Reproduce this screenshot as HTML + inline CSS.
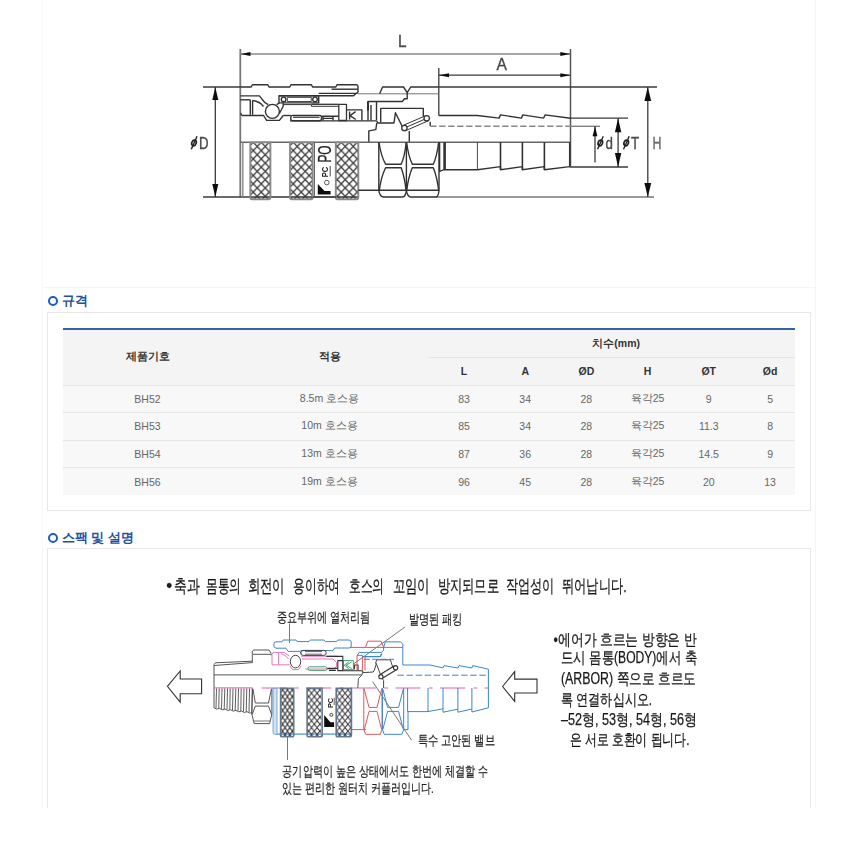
<!DOCTYPE html>
<html lang="ko">
<head>
<meta charset="utf-8">
<title>BH Series</title>
<style>
*{box-sizing:border-box;margin:0;padding:0}
html,body{width:860px;height:850px;background:#fff;overflow:hidden}
body{font-family:"Liberation Sans",sans-serif;color:#666;position:relative}
.wrap{position:absolute;left:42px;top:0;width:774px;height:808px;border-left:1px solid #f8f8f8;border-right:1px solid #f6f6f6}
.topbox{position:absolute;left:0;top:0;width:860px;height:288px}
.topline{position:absolute;left:43px;top:287px;width:772px;height:1px;background:#f6f6f6}
h3{position:absolute;left:47.8px;height:14px;font-size:13px;line-height:14px;font-weight:bold;color:#24519f;padding-left:14px;white-space:nowrap}
h3:before{content:"";position:absolute;left:-0.3px;top:2.1px;width:6px;height:6px;border:2.3px solid #1d5cc0;border-radius:50%}
h3.h1{top:294px}
h3.h2{top:530.5px}
.box{position:absolute;left:47px;width:764px;border:1px solid #e8e8e8;background:#fff}
.box.b1{top:312px;height:199px}
.box.b2{top:548px;height:270px;border-bottom:none}
.cut{position:absolute;left:0;top:808px;width:860px;height:42px;background:#fff}
table{position:absolute;left:15px;top:15px;width:732px;border-collapse:collapse;table-layout:fixed;border-top:2px solid #3462aa;font-size:10.5px}
th,td{text-align:center;vertical-align:middle;padding:0;border-bottom:1px solid #e6e6e6;white-space:nowrap}
th{background:#f4f4f4;color:#333;font-weight:bold;font-size:10.5px}
td{background:#f8f8f8;color:#666;height:27.5px}
tr.r1 th{height:28.7px}
tr.r2 th{height:27.5px}
tr:last-child td{border-bottom:none}
th.grp{border-bottom:1px solid #e4e4e4;position:relative;padding-left:4px}
th.grp:before{content:"";position:absolute;left:-5.4px;bottom:-1px;width:6px;height:1px;background:#e4e4e4}
.c2{padding-right:6.4px}
.cl{padding-left:5.8px}
</style>
</head>
<body>
<div class="wrap"></div>
<div class="topbox">
<svg width="860" height="288" viewBox="0 0 860 288" style="position:absolute;left:0;top:0">
<defs><pattern id="kn" width="8" height="8.3" patternUnits="userSpaceOnUse" x="253.24" y="150.6"><path d="M0,0 L8,8.3 M8,0 L0,8.3" stroke="#3a3a3a" stroke-width="1.35" fill="none"/></pattern><filter id="bl" x="-2%" y="-2%" width="104%" height="104%"><feGaussianBlur stdDeviation="0.62"/></filter></defs>
<g filter="url(#bl)">
<g fill="none" stroke="#3a3a3a" stroke-width="1.3">
<path d="M240.3,49 V197" stroke="#777" stroke-width="1.8"/>
<path d="M240.3,54 H570.5" stroke="#888" stroke-width="1.4"/>
<path d="M438.8,68 V115.5"/>
<path d="M438.8,75.2 H570.5"/>
<path d="M570.5,49 V166.5" stroke="#555" stroke-width="1.5"/>
<path d="M203,87 H240.3"/>
<path d="M203,197 H250"/>
<path d="M215.3,87 V197"/>
<path d="M438.8,87 H657"/>
<path d="M436,197 H654" stroke="#777" stroke-width="1.4"/>
<path d="M647.8,87 V197"/>
<path d="M570.5,118.2 H628"/>
<path d="M569.5,167 H628"/>
<path d="M618.1,118.2 V167"/>
<path d="M571,126.3 H600" stroke="#777"/>
<path d="M595,126.3 V162.4"/>
</g>
<path d="M240.5,54 L250.5,52.0 L250.5,56.0 Z" fill="#111" stroke="none"/>
<path d="M570.3,54 L560.3,52.0 L560.3,56.0 Z" fill="#111" stroke="none"/>
<path d="M439,75.2 L449,73.2 L449,77.2 Z" fill="#111" stroke="none"/>
<path d="M570.3,75.2 L560.3,73.2 L560.3,77.2 Z" fill="#111" stroke="none"/>
<path d="M215.3,87 L212.3,100 L218.3,100 Z" fill="#111" stroke="none"/>
<path d="M215.3,197 L212.3,184 L218.3,184 Z" fill="#111" stroke="none"/>
<path d="M647.8,87 L644.4,101 L651.1999999999999,101 Z" fill="#111" stroke="none"/>
<path d="M647.8,197 L644.4,183 L651.1999999999999,183 Z" fill="#111" stroke="none"/>
<path d="M618.1,118.2 L614.9,132.2 L621.3000000000001,132.2 Z" fill="#111" stroke="none"/>
<path d="M618.1,167 L614.9,153 L621.3000000000001,153 Z" fill="#111" stroke="none"/>
<path d="M595,126.3 L592.6,136.3 L597.4,136.3 Z" fill="#111" stroke="none"/>
<g font-family="Liberation Sans, sans-serif" font-size="16.1" fill="#484848" stroke="#484848" stroke-width="0.35">
<text transform="translate(397.9,46.5) scale(0.95,0.97)">L</text>
<text transform="translate(496.5,70.4) scale(0.97,0.97)">A</text>
<text transform="translate(198.9,148.8) scale(0.82,1)">D</text>
<text transform="translate(605.5,148.7) scale(0.83,1)">d</text>
<text transform="translate(631,148.7) scale(0.83,1)">T</text>
<text transform="translate(652.6,148.7) scale(0.77,1)" fill="#666" stroke="#666">H</text>
</g>
<ellipse cx="194.0" cy="142.9" rx="2.2" ry="2.9" fill="none" stroke="#222" stroke-width="1.7" transform="rotate(18 194.0 142.9)"/><path d="M191.3,149.3 L197.0,136.3" stroke="#222" stroke-width="1.4" fill="none"/>
<ellipse cx="600.3" cy="142.9" rx="2.2" ry="2.9" fill="none" stroke="#222" stroke-width="1.7" transform="rotate(18 600.3 142.9)"/><path d="M597.5999999999999,149.3 L603.3,136.3" stroke="#222" stroke-width="1.4" fill="none"/>
<ellipse cx="626.2" cy="142.9" rx="2.2" ry="2.9" fill="none" stroke="#222" stroke-width="1.7" transform="rotate(18 626.2 142.9)"/><path d="M623.5,149.3 L629.2,136.3" stroke="#222" stroke-width="1.4" fill="none"/>
<g fill="none" stroke="#333" stroke-width="1.4" stroke-linejoin="round">
<path d="M240.3,87 H251.2 L252.4,84.7 H267.8 L269,87 H289.8 L291,84.7 H311.4 L312.6,87 H335.8 L337,84.7 H356.3 Q358,84.9 358,86.6 V91.5 Q358,93.3 356.3,93.3"/>
<path d="M331.5,89.2 H357.8"/>
<path d="M318.7,93.4 H357"/>
<path d="M279,95.8 H353.5 L356,93.4"/>
<path d="M357.5,93.8 H438.8" stroke="#666" stroke-width="0.9"/>
<path d="M240.3,95.9 H259.4 L265,102.7"/>
<path d="M240.3,99.8 H250.3"/>
<path d="M250.3,99.8 V114.8 M252.6,100.2 V114.8"/>
<path d="M252.6,100.5 Q260,101.5 263.5,106.5"/>
<path d="M240.5,113 L242,115.5 H263.6 L266.6,120.4 H279.4 L283.2,115.5"/>
<path d="M265,102.7 L268.2,104.6 M276.6,104.6 L279.5,102.9"/>
<circle cx="272.4" cy="111.4" r="7" fill="#fff"/>
<path d="M279.4,113.5 L283.2,106.2 V103"/>
<rect x="279" y="95.8" width="39.7" height="7.1" stroke-width="1.4"/>
<rect x="287.3" y="97.4" width="24" height="4.1" stroke-width="0.9"/>
<circle cx="283.6" cy="99.4" r="2.3" fill="#fff"/><circle cx="315" cy="99.4" r="2.3" fill="#fff"/>
<path d="M283.2,104.6 H311.5 V106.3 H338.5" stroke-width="1"/>
<path d="M311.5,104.3 H338.5" stroke-width="1.3"/>
<rect x="290.8" y="115.4" width="30.7" height="5.4" rx="2"/>
<path d="M293,117.2 H319.5" stroke-width="1.3"/>
<path d="M283.2,115.5 H290.8"/>
<path d="M321.5,116.2 H338.8 M323,118.4 H333 M323,116.2 V120.4 M333,116.2 V120.4"/>
<rect x="338.8" y="104.3" width="7.7" height="16.2" stroke-width="1.3"/>
<path d="M346.5,109.9 H361.9 V120.5"/>
<path d="M349.6,111.5 V119.5 M355.6,111.6 L350,115.6 L355.8,119.5" stroke-width="1.4"/>
<path d="M290,120.9 H376.3"/>
<path d="M379.6,93.8 L382.6,87 H403.5 L407.2,92.6 L410.7,87 H438.8"/>
<path d="M368,110 V101.5 H402.3 L404.5,98.7 H407.2 V92.6"/>
<path d="M368,101.5 V110.4" stroke-width="2"/>
<path d="M368,110 V120.5 M371,105 V120.5 M376.5,101.5 V120.5"/>
<path d="M380.7,122.4 V108.4 H423.3 V116.4"/>
<path d="M376.5,121 L378,123 H394 L395.4,112.8 L402.4,126.8"/>
<path d="M376.8,123 L375.8,129.6 L368.8,130.9 V142"/>
<path d="M409.3,131 V142"/>
<path d="M403.2,125.4 L425.4,115.8 M405.8,130.6 L428,120.9 M404.4,128 L426.6,118.4" stroke-width="1"/>
<circle cx="404.4" cy="128" r="2.7" fill="#fff" stroke-width="1.3"/><circle cx="426.7" cy="118.3" r="2.7" fill="#fff" stroke-width="1.3"/>
<path d="M430.2,121.7 V126"/>
<path d="M430.2,126.2 H571" stroke="#888" stroke-dasharray="6.3 2.7"/>
<path d="M438.8,115.5 H477.4 L499.1,118.1 L500.5,114.9 L521.4,118.1 L522.8,114.9 L543.7,118.1 L545,114.9 L570.5,118.2"/>
</g>
<g fill="none" stroke="#333" stroke-width="1.4" stroke-linejoin="round">
<path d="M240.3,142.2 H570.3" stroke="#666" stroke-width="1.6"/>
<path d="M242.8,142.2 V197" stroke="#888"/>
<path d="M250,197 H358"/>
<path d="M250.3,142.4 H270.4 V197.6 Q270.4,199.4 268.59999999999997,199.4 H252.10000000000002 Q250.3,199.4 250.3,197.6 Z" fill="url(#kn)" stroke="#8a8a8a" stroke-width="1.9"/>
<path d="M290,142.4 H312.7 V197.6 Q312.7,199.4 310.9,199.4 H291.8 Q290,199.4 290,197.6 Z" fill="url(#kn)" stroke="#8a8a8a" stroke-width="1.9"/>
<path d="M335.8,142.4 H358.3 V197.6 Q358.3,199.4 356.5,199.4 H337.6 Q335.8,199.4 335.8,197.6 Z" fill="url(#kn)" stroke="#8a8a8a" stroke-width="1.9"/>
<path d="M312.7,197.2 H335.8"/>
<path d="M358.3,190.3 H439"/>
<path d="M378.8,142.2 V190.3 Q379.8,196.4 383.3,197 H402.8 Q405.6,196.4 406.4,190.3 V142.2"/>
<path d="M406.4,190.3 Q407.4,196.4 410.5,197 H436.3 Q438.4,196.4 439,190.3 V142.2"/>
<path d="M379,142.5 Q381,156 385.6,164.2 H401.2 Q404.8,156 406.2,142.5"/>
<path d="M379.4,190 Q381,177 385.6,167.8 H401.2 Q404.6,177 406,190"/>
<path d="M406.6,142.5 Q408.4,156 412.3,164.2 H433.3 Q437,156 438.6,142.5"/>
<path d="M406.8,190 Q408.4,177 412.3,167.8 H433.3 Q437,177 438.6,190"/>
<path d="M439.6,142.2 V171.4 L444,169.7 V142.2 M445.2,142.2 V169.7"/>
<path d="M444,169.8 H477.4 L500.5,166.6 V169.8 L522.4,166.6 V169.8 L544.4,166.6 V169.8 L569.7,166.6"/>
<path d="M477.4,142.2 V169.8" stroke-width="0.9"/>
<path d="M500.5,142.2 V169.8 M522.4,142.2 V169.8 M544.4,142.2 V169.8" stroke-width="1.6"/>
<path d="M569.7,142.2 V166.6" stroke-width="1.5"/>
</g>
<path d="M314.4,142.4 V197.4 M312.7,197.4 H335.8" stroke="#555" stroke-width="1" fill="none"/>
<g font-family="Liberation Sans, sans-serif" fill="#222">
<text transform="translate(330.6,162.6) rotate(-90)" font-size="17.6" stroke="#222" stroke-width="0.3" textLength="17.2" lengthAdjust="spacingAndGlyphs">PO</text>
<text transform="translate(327.7,177.3) rotate(-90)" font-size="9" font-weight="bold" textLength="10.4" lengthAdjust="spacingAndGlyphs">PC</text>
</g>
<path d="M330.2,166 V176.4" stroke="#333" stroke-width="0.9" fill="none"/>
<circle cx="326.8" cy="182.6" r="2.3" fill="#fff" stroke="#555" stroke-width="1"/>
<path d="M317.8,183.9 L324.6,191.1 H330.6 V194.6 H317.8 Z" fill="#111"/>
</g>
</svg>
</div>
<div class="topline"></div>

<h3 class="h1">규격</h3>
<div class="box b1">
<table>
<colgroup><col style="width:169px"><col style="width:201.4px"><col style="width:61.2px"><col style="width:61.2px"><col style="width:61.2px"><col style="width:61.2px"><col style="width:61.2px"><col></colgroup>
<thead>
<tr class="r1"><th rowspan="2">제품기호</th><th rowspan="2" class="c2">적용</th><th colspan="6" class="grp">치수(mm)</th></tr>
<tr class="r2"><th>L</th><th>A</th><th>ØD</th><th>H</th><th>ØT</th><th class="cl">Ød</th></tr>
</thead>
<tbody>
<tr><td>BH52</td><td class="c2">8.5m 호스용</td><td>83</td><td>34</td><td>28</td><td>육각25</td><td>9</td><td class="cl">5</td></tr>
<tr><td>BH53</td><td class="c2">10m 호스용</td><td>85</td><td>34</td><td>28</td><td>육각25</td><td>11.3</td><td class="cl">8</td></tr>
<tr><td>BH54</td><td class="c2">13m 호스용</td><td>87</td><td>36</td><td>28</td><td>육각25</td><td>14.5</td><td class="cl">9</td></tr>
<tr><td>BH56</td><td class="c2">19m 호스용</td><td>96</td><td>45</td><td>28</td><td>육각25</td><td>20</td><td class="cl">13</td></tr>
</tbody>
</table>
</div>

<h3 class="h2">스팩 및 설명</h3>
<div class="box b2">
<svg width="762" height="260" viewBox="48 549 762 260" style="position:absolute;left:0;top:0">
<defs><pattern id="kn2" width="4.8" height="6.9" patternUnits="userSpaceOnUse" x="282.64" y="696.64"><path d="M0,0 L4.8,6.9 M4.8,0 L0,6.9" stroke="#2c2c2c" stroke-width="1" fill="none"/></pattern><pattern id="kn3" width="5.6" height="6.9" patternUnits="userSpaceOnUse" x="308.7" y="696.64"><path d="M0,0 L5.6,6.9 M5.6,0 L0,6.9" stroke="#2c2c2c" stroke-width="1" fill="none"/></pattern><filter id="bl2" x="-2%" y="-2%" width="104%" height="104%"><feGaussianBlur stdDeviation="0.4"/></filter></defs>
<g filter="url(#bl2)">
<g font-family="Liberation Sans, sans-serif" fill="#1a1a1a">
<g font-size="17.8" stroke="#1a1a1a" stroke-width="0.25">
<text x="166.3" y="591.5" textLength="5.9" lengthAdjust="spacingAndGlyphs">•</text>
<text x="174.4" y="591.5" textLength="25.8" lengthAdjust="spacingAndGlyphs">축과</text>
<text x="206" y="591.5" textLength="34.9" lengthAdjust="spacingAndGlyphs">몸통의</text>
<text x="247.7" y="591.5" textLength="37.2" lengthAdjust="spacingAndGlyphs">회전이</text>
<text x="293.3" y="591.5" textLength="46.9" lengthAdjust="spacingAndGlyphs">용이하여</text>
<text x="348.7" y="591.5" textLength="35.5" lengthAdjust="spacingAndGlyphs">호스의</text>
<text x="392.7" y="591.5" textLength="37.1" lengthAdjust="spacingAndGlyphs">꼬임이</text>
<text x="437.5" y="591.5" textLength="61.5" lengthAdjust="spacingAndGlyphs">방지되므로</text>
<text x="505.9" y="591.5" textLength="48.5" lengthAdjust="spacingAndGlyphs">작업성이</text>
<text x="561.9" y="591.5" textLength="64.8" lengthAdjust="spacingAndGlyphs">뛰어납니다.</text>
</g>
<g font-size="13.6" fill="#222" stroke="#222" stroke-width="0.2">
<text x="276.5" y="622.3" textLength="94" lengthAdjust="spacingAndGlyphs">중요부위에 열처리됨</text>
<text x="408.5" y="624" textLength="54" lengthAdjust="spacingAndGlyphs">발명된 패킹</text>
<text x="417.5" y="744.6" textLength="77.5" lengthAdjust="spacingAndGlyphs">특수 고안된 밸브</text>
<text x="282.3" y="776.3" textLength="206" lengthAdjust="spacingAndGlyphs">공기압력이 높은 상태에서도 한번에 체결할 수</text>
<text x="282.3" y="793" textLength="151.5" lengthAdjust="spacingAndGlyphs">있는 편리한 원터치 커플러입니다.</text>
</g>
<g font-size="15.6" fill="#1a1a1a" stroke="#1a1a1a" stroke-width="0.25">
<text x="553.5" y="644.6" textLength="143" lengthAdjust="spacingAndGlyphs">•에어가 흐르는 방향은 반</text>
<text x="561" y="663.4" textLength="136" lengthAdjust="spacingAndGlyphs">드시 몸통(BODY)에서 축</text>
<text x="561" y="684.2" textLength="135" lengthAdjust="spacingAndGlyphs">(ARBOR) 쪽으로 흐르도</text>
<text x="561" y="704.6" textLength="91" lengthAdjust="spacingAndGlyphs">록 연결하십시오.</text>
<text x="561" y="724.8" textLength="136" lengthAdjust="spacingAndGlyphs">–52형, 53형, 54형, 56형</text>
<text x="569.5" y="745.4" textLength="120" lengthAdjust="spacingAndGlyphs">은 서로 호환이 됩니다.</text>
</g></g>
<g fill="#fff" stroke="#333" stroke-width="1.1" stroke-linejoin="miter">
<path d="M167.4,686.3 L180.2,671 V679 H201.6 V693.7 H180.2 V702.2 Z"/>
<path d="M502.6,686.5 L514.7,671.6 V679.1 H537 V693 H514.7 V701.4 Z"/>
</g>
<g fill="none" stroke="#555" stroke-width="0.8">
<path d="M289.5,623.5 V643"/>
<path d="M405,627 L353,664.3"/>
<path d="M372.6,681.6 L411.5,740.2"/>
<path d="M287.5,737 V760"/>
</g>
<g fill="none" stroke="#555" stroke-width="1" stroke-linejoin="round">
<path d="M252.2,661.2 L215.4,662.8 L214,664.6 V707.7"/>
<path d="M214.2,665.5 L252.2,662.6"/>
<path d="M252.3,662.8 V651.2 L253.9,650 H269 L271.1,653.6 V655.4"/>
<path d="M253,654.3 H270.6"/>
<path d="M214,674.9 H362"/>
<path d="M216.5,688.4 L216.0,708.1 M219.2,688.4 L218.8,708.5 M222.0,688.4 L221.5,708.8 M224.8,688.4 L224.2,709.1 M227.5,688.4 L227.0,709.5 M230.2,688.4 L229.8,709.8 M233.0,688.4 L232.5,710.1 M235.8,688.4 L235.2,710.5 M238.5,688.4 L238.0,710.8 M241.2,688.4 L240.8,711.1 M244.0,688.4 L243.5,711.5 M246.8,688.4 L246.2,711.8 M249.5,688.4 L249.0,712.1 M252.2,688.4 L251.8,712.5 " stroke-width="0.95"/>
<path d="M214,707.7 Q216.8,710.2 219.5,708.4 Q222.2,710.9 225.0,709.0 Q227.8,711.6 230.5,709.7 Q233.2,712.2 236.0,710.4 Q238.8,712.9 241.5,711.0 Q244.2,713.6 247.0,711.7 Q249.8,714.2 252.5,712.4 " stroke-width="1"/>
<path d="M252.6,688.4 L251.8,714 L254.2,723.6 H269.6 L271.9,714 V688.4"/>
<path d="M253,689 L255.3,703 H268.5 L271.4,689"/>
<path d="M252.2,714.6 L255.3,706.1 H268.5 L271.6,714.6"/>
<path d="M253.6,721 H270.2" stroke-width="0.8"/>
</g>
<path d="M214,687.9 H252.6" stroke="#df5fa8" stroke-width="1" fill="none"/>
<path d="M258.6,688 H489" stroke="#df5fa8" stroke-width="1" fill="none" stroke-dasharray="25 8.4 3.7 7.5" stroke-dashoffset="41.5"/>
<g fill="none" stroke="#3c86c8" stroke-width="1" stroke-linejoin="round">
<path d="M276,648.2 Q273.6,648 273.8,645 Q273.8,641.8 276,641.8 H282 L283.2,640 H296 L297.2,641.6 H309 L310.2,640 H324 L325.2,641.6 H336.5 L337.7,640 H349 Q351.2,640.2 351.2,642 V646 Q351.2,648 349,648 H334.6"/>
<path d="M276,648.2 H286 L288,651.4 H300 M334.6,648 L333,650.6 H300.5"/>
<path d="M300,651.4 L301.5,654.5"/>
<path d="M273,688.4 H277 V734.4 H275 Q273,734.2 273,732 Z" fill="#cfe3f4" stroke="#6fa5d6" stroke-width="0.9"/>
<path d="M277,734.2 H351.4" stroke="#7fb0de" stroke-width="1.8"/>
<path d="M351.6,688 V734" stroke="#7fb0de" stroke-width="1.3"/>
</g>
<g fill="none" stroke="#df5fa8" stroke-width="0.85" stroke-linejoin="round">
<path d="M272,664.8 V654.4 Q272.2,652.4 274.4,652.4 H284 L289.4,656 M272,664.8 H289.6"/>
<path d="M278.6,653 V664.6 M281,653.6 Q286,655 288.6,659"/>
<path d="M301,656.2 H337.5 M301.8,659 H333 L336.6,662.6 V666.8 L333.4,669 H305"/>
<path d="M290,666 L292.4,669.6 H298.6 L301.2,665.8"/>
</g>
<g fill="none" stroke="#444" stroke-width="1">
<rect x="300.8" y="650.4" width="25.4" height="5" rx="2.4"/>
<path d="M305,651.6 H322 M305,654.2 H322" stroke-width="0.8"/>
<ellipse cx="295.5" cy="661.6" rx="5.2" ry="6.3" fill="#fff"/>
</g>
<g fill="none" stroke="#2f9a62" stroke-width="0.9">
<rect x="308" y="666.8" width="19" height="3.6" rx="1.5"/>
<path d="M343.4,660.6 H353.4 V669.6 H343.4 Z"/>
<path d="M351.6,662 L346,665.2 L351.8,668.6 M348.6,662 L344.2,665.2 L348.8,668.6"/>
</g>
<g fill="none" stroke="#333" stroke-width="1.1" stroke-linejoin="round">
<path d="M327.4,668.4 H337.6 M329,670.4 H336"/>
<path d="M326.4,656.4 H342.8 V660.6 H337.8 V670.6 H342.8"/>
<path d="M342.8,660.6 V670.8 H362.2 L363,672.6"/>
<path d="M354.4,669.6 V665 H358 V670.6"/>
<path d="M362,675 L362.8,671.4 M362,675 L358.4,678.6 L357.8,688" stroke="#555" stroke-width="1"/>
<path d="M363,672.6 L373.2,672 L374.4,670 L376.4,663.4 H375.6 L376.6,659.8 H390.4 L391.4,663 L393,668" stroke="#444" stroke-width="1"/>
<path d="M376.4,663.8 L380.4,674.4 M380.9,676.7 L383.6,680.4 V688" stroke="#444" stroke-width="1"/>
<path d="M379.8,674.8 L394.4,665.8 M382,678.6 L396.8,669.6" stroke-width="1.2"/>
<circle cx="380.9" cy="676.7" r="2.1" fill="#fff"/><circle cx="395.6" cy="667.7" r="2.1" fill="#fff"/>
</g>
<g fill="none" stroke="#e0555f" stroke-width="1" stroke-linejoin="round">
<path d="M350,647.4 H402.6"/>
<path d="M365.6,647.4 L367.7,641.2 H381 L383.7,647.4"/>
<path d="M357,655.4 H362.4 V670.4 M357,655.4 V670.4 M365,655.8 V670.4"/>
<path d="M351.2,729.6 H366"/>
<path d="M363.8,688 V729.5 L365.6,734.3 H380.3 L382.1,729.5 V688"/>
<path d="M364.2,689 L369,707.4 H377 L381.7,689"/>
<path d="M364.4,729.5 L369,711.4 H377 L381.6,729.5"/>
</g>
<g fill="none" stroke="#3c86c8" stroke-width="1" stroke-linejoin="round">
<path d="M383.7,647.4 L385.2,641.9 H400.5 L402.8,644 V665 H430 L443,667.9 L444,665.6 L457.9,668 L459,665.6 L471.9,668 L472.6,665.6 L488.4,669.2 V707.8"/>
<path d="M357.4,655.4 L359,652.4 H381.6 L383.6,650 V647.4"/>
<path d="M362.4,656.6 H380 L382,653.6" stroke-width="1.4"/>
<path d="M382.4,688 V729.5 L384.2,734.3 H401.9 L403.7,729.5 V688"/>
<path d="M382.8,689 L387.6,707.4 H398.6 L403.3,689"/>
<path d="M382.8,729.5 L387.6,711.4 H398.6 L403.3,729.5"/>
<path d="M404.2,729.6 H408 V711.6 M407.6,688 V711.6 H428 L443,708.8 V712.2 L457.9,709.2 V712.2 L471.9,709 V712 L488.4,707.8"/>
<path d="M428,688 V711.6 M443,688 V709 M457.9,688 V709 M471.9,688 V709"/>
<path d="M397.4,675.2 H488.4" stroke-dasharray="6.5 2.6"/>
<path d="M363.8,659.3 H394" stroke-dasharray="6 2.4"/>
</g>
<path d="M280.6,688.4 H293.7 V735.4 Q293.7,736.8 292.3,736.8 H282.0 Q280.6,736.8 280.6,735.4 Z" fill="url(#kn2)" stroke="#66768a" stroke-width="1.6"/>
<path d="M307.1,688.4 H322.2 V735.4 Q322.2,736.8 320.8,736.8 H308.5 Q307.1,736.8 307.1,735.4 Z" fill="url(#kn3)" stroke="#66768a" stroke-width="1.6"/>
<path d="M336.2,688.4 H351.3 V735.4 Q351.3,736.8 349.90000000000003,736.8 H337.59999999999997 Q336.2,736.8 336.2,735.4 Z" fill="url(#kn3)" stroke="#66768a" stroke-width="1.6"/>
<path d="M321.8,688.6 V734" stroke="#8fb0d0" stroke-width="0.9" fill="none"/>
<text transform="translate(332.5,708.1) rotate(-90)" font-family="Liberation Sans, sans-serif" font-size="7.6" font-weight="bold" fill="#222" textLength="10.2" lengthAdjust="spacingAndGlyphs">PC</text>
<path d="M334.2,697.8 V705.2" stroke="#333" stroke-width="0.8" fill="none"/>
<circle cx="331.3" cy="714.8" r="1.5" fill="#fff" stroke="#333" stroke-width="0.9"/>
<path d="M324.2,715.1 L330.4,722.2 H334.1 V727 H324.2 Z" fill="#111"/>
</g>
</svg>
</div>
<div class="cut"></div>
</body>
</html>
